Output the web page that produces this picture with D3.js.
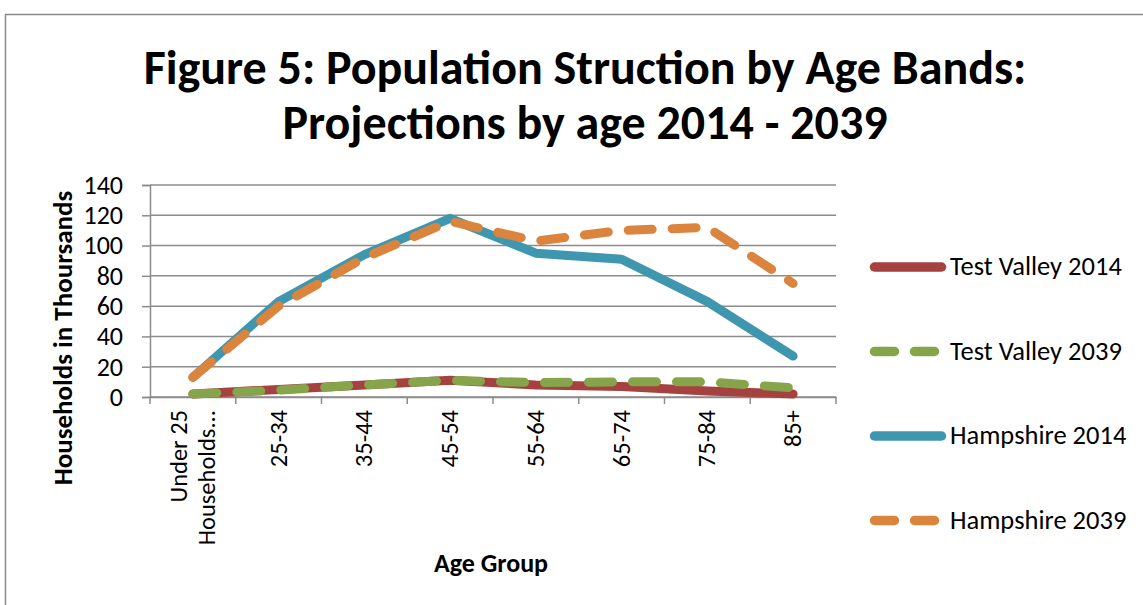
<!DOCTYPE html>
<html><head><meta charset="utf-8">
<script src="https://cdn.jsdelivr.net/npm/d3@7/dist/d3.min.js"></script>
<style>body{margin:0;background:#fff}svg{display:block}</style>
</head><body>
<script>
const categories = ["Under 25 Households...", "25-34", "35-44", "45-54", "55-64", "65-74", "75-84", "85+"];
const testValley2014 = [2, 5, 8, 11, 8, 7, 4, 2];
const testValley2039 = [2, 4.5, 8, 11, 9.5, 10, 10, 6];
const hampshire2014 = [13, 63, 94, 118, 95, 91, 63, 27];
const hampshire2039 = [13, 60, 92, 116, 103, 110, 112, 75];
const yTicks = [0, 20, 40, 60, 80, 100, 120, 140];
const seriesNames = ["Test Valley 2014", "Test Valley 2039", "Hampshire 2014", "Hampshire 2039"];
const seriesColors = ["#A5423F", "#86A44A", "#3F97AF", "#DB843D"];
const seriesDashed = [false, true, false, true];
const seriesValues = [testValley2014, testValley2039, hampshire2014, hampshire2039];

(function () {
const W = 1143, H = 605;
const svg = d3.select("body").append("svg").attr("width", W).attr("height", H);
const font = "Carlito, 'Open Sans', 'Liberation Sans', sans-serif";
const fs = 26;

svg.append("rect").attr("x", 5.5).attr("y", 14.5).attr("width", W).attr("height", H)
  .attr("fill", "none").attr("stroke", "#898989").attr("stroke-width", 1.5);

const pL = 150, pR = 836, pT = 185, pB = 397;
const x = d3.scaleBand().domain(categories).range([pL, pR]).padding(0);
const y = d3.scaleLinear().domain([0, 140]).range([pB, pT]);

svg.append("g").selectAll("line").data(yTicks).join("line")
  .attr("x1", pL).attr("x2", pR).attr("y1", d => y(d)).attr("y2", d => y(d))
  .attr("stroke", "#8C8C8C").attr("stroke-width", 1.5);

const yAxis = svg.append("g").attr("transform", `translate(${pL},0)`)
  .call(d3.axisLeft(y).tickValues(yTicks).tickSize(8).tickPadding(19));
yAxis.select(".domain").attr("stroke", "#8C8C8C").attr("stroke-width", 1.5);
yAxis.selectAll(".tick line").attr("stroke", "#8C8C8C").attr("stroke-width", 1.5);
yAxis.selectAll("text").attr("font-family", font).attr("font-size", fs).attr("fill", "#000");

const xAxis = svg.append("g").attr("transform", `translate(0,${pB})`)
  .call(d3.axisBottom(x).tickSize(0).tickFormat(""));
xAxis.select(".domain").attr("stroke", "#8C8C8C").attr("stroke-width", 1.5);
const bounds = categories.map(c => x(c)).concat([pR]);
xAxis.selectAll(".bnd").data(bounds).join("line").attr("class", "bnd")
  .attr("x1", d => d).attr("x2", d => d).attr("y1", 0).attr("y2", 7)
  .attr("stroke", "#8C8C8C").attr("stroke-width", 1.5);

categories.forEach(c => {
  const cx = x(c) + x.bandwidth() / 2;
  let lines = c === categories[0] ? ["Under 25", "Households..."] : [c];
  const lh = 28;
  lines.forEach((t, i) => {
    const off = (i - (lines.length - 1) / 2) * lh;
    svg.append("text").attr("transform", `translate(${cx + off + 8},${pB + 13}) rotate(-90)`)
      .attr("text-anchor", "end").attr("font-family", font).attr("font-size", 24.5).attr("fill", "#000")
      .text(t);
  });
});

const line = d3.line().x((d, i) => x(categories[i]) + x.bandwidth() / 2).y(d => y(d));
seriesValues.forEach((vals, k) => {
  svg.append("path").datum(vals).attr("d", line).attr("fill", "none")
    .attr("stroke", seriesColors[k]).attr("stroke-width", 9)
    .attr("stroke-linecap", "round").attr("stroke-linejoin", "round")
    .attr("stroke-dasharray", seriesDashed[k] ? "24,20" : null);
});

const legY = [267, 351.5, 436, 520.5];
seriesNames.forEach((n, k) => {
  svg.append("line").attr("x1", 874.5).attr("x2", 941.5).attr("y1", legY[k]).attr("y2", legY[k])
    .attr("stroke", seriesColors[k]).attr("stroke-width", 9.5).attr("stroke-linecap", "round")
    .attr("stroke-dasharray", seriesDashed[k] ? "20,20" : null);
  svg.append("text").attr("x", 950).attr("y", legY[k] + 8).attr("font-family", font)
    .attr("font-size", 26.5).attr("fill", "#000").text(n);
});

svg.append("text").attr("x", 585).attr("y", 84).attr("text-anchor", "middle")
  .attr("font-family", font).attr("font-weight", "bold").attr("font-size", 48)
  .text("Figure 5: Population Struction by Age Bands:");
svg.append("text").attr("x", 585).attr("y", 139).attr("text-anchor", "middle")
  .attr("font-family", font).attr("font-weight", "bold").attr("font-size", 48)
  .text("Projections by age 2014 - 2039");
svg.append("text").attr("x", 491).attr("y", 572).attr("text-anchor", "middle")
  .attr("font-family", font).attr("font-weight", "bold").attr("font-size", fs)
  .text("Age Group");
svg.append("text").attr("transform", "translate(72,338) rotate(-90)").attr("text-anchor", "middle")
  .attr("font-family", font).attr("font-weight", "bold").attr("font-size", 27)
  .text("Households in Thoursands");
})();
</script>
</body></html>
